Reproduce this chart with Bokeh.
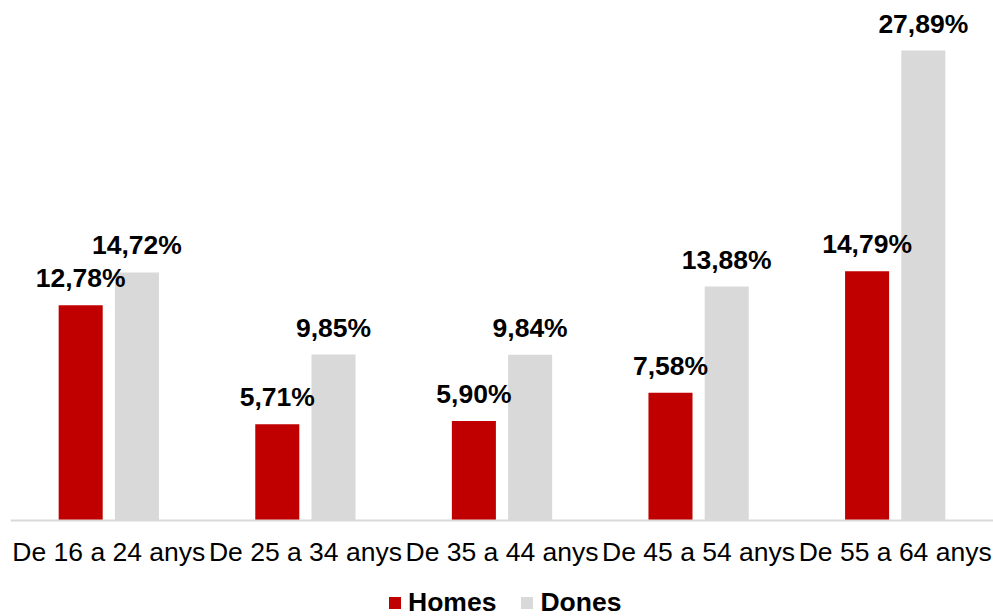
from bokeh.plotting import figure
from bokeh.models import ColumnDataSource, FactorRange, Range1d, Legend, LegendItem, Span
from bokeh.transform import dodge
from bokeh.core.properties import value
from bokeh.embed import file_html
from bokeh.resources import INLINE

categories = ["De 16 a 24 anys", "De 25 a 34 anys", "De 35 a 44 anys", "De 45 a 54 anys", "De 55 a 64 anys"]
homes = [12.78, 5.71, 5.90, 7.58, 14.79]
dones = [14.72, 9.85, 9.84, 13.88, 27.89]

def fmt(v):
    return f"{v:.2f}".replace(".", ",") + "%"

src = ColumnDataSource(data=dict(
    cat=categories,
    homes=homes,
    dones=dones,
    homes_lbl=[fmt(v) for v in homes],
    dones_lbl=[fmt(v) for v in dones],
))

FONT = "Liberation Sans"
RED = "#C00000"
GRAY = "#D9D9D9"
FS = "26.5px"

# pixel scale: 16.85 px per percentage point; baseline at 520 px of a 616 px canvas
K = 16.85
p = figure(
    width=993, height=616,
    x_range=FactorRange(factors=categories),
    y_range=Range1d(-96 / K, 520 / K),
    output_backend="svg", toolbar_location=None,
    min_border_left=10, min_border_right=0, min_border_top=0, min_border_bottom=0,
    x_axis_location=None, y_axis_location=None,
)
p.outline_line_color = None
p.xgrid.visible = False
p.ygrid.visible = False

OFF = 0.143
W = 0.224
r1 = p.vbar(x=dodge("cat", -OFF, range=p.x_range), top="homes", width=W, source=src,
            fill_color=RED, line_color=None)
r2 = p.vbar(x=dodge("cat", OFF, range=p.x_range), top="dones", width=W, source=src,
            fill_color=GRAY, line_color=None)

for off, col, lbl in [(-OFF, "homes", "homes_lbl"), (OFF, "dones", "dones_lbl")]:
    p.text(x=dodge("cat", off, range=p.x_range), y=col, text=lbl, source=src,
           text_font=value(FONT), text_font_style="bold", text_font_size=FS,
           text_color="#000000", text_align="center", text_baseline="alphabetic",
           y_offset=-27)

# category axis: baseline line and category labels
p.add_layout(Span(location=0, dimension="width", line_color=GRAY, line_width=2))
p.text(x="cat", y=0, text="cat", source=src,
       text_font=value(FONT), text_font_size=FS, text_color="#000000",
       text_align="center", text_baseline="middle", y_offset=31)

legend = Legend(items=[LegendItem(label="Homes", renderers=[r1]),
                       LegendItem(label="Dones", renderers=[r2])],
                orientation="horizontal", location=(377, -2))
legend.label_text_font = FONT
legend.label_text_font_style = "bold"
legend.label_text_font_size = FS
legend.label_text_color = "#000000"
legend.glyph_width = 15
legend.glyph_height = 15
legend.label_standoff = 6
legend.spacing = 23
legend.padding = 0
legend.margin = 0
legend.border_line_color = None
legend.background_fill_alpha = 0
p.add_layout(legend, "center")

open("out.html", "w").write(file_html(p, INLINE))
